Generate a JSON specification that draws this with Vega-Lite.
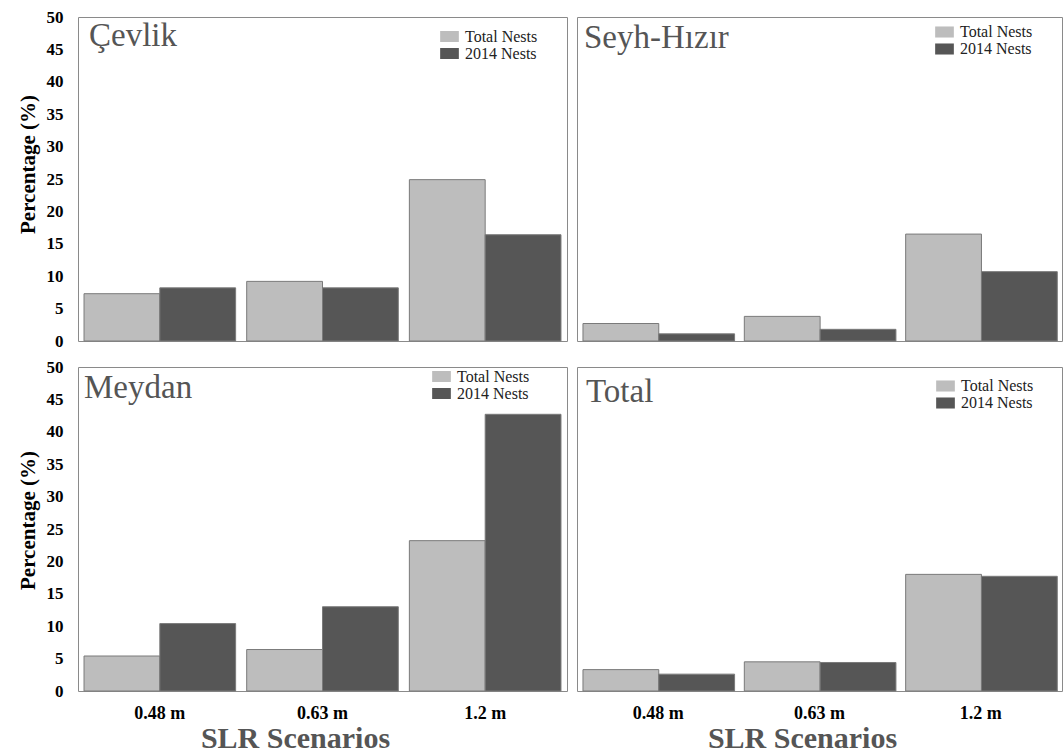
{
  "$schema": "https://vega.github.io/schema/vega-lite/v6.json",
  "padding": {"left": 16, "top": 7, "right": 0, "bottom": 0},
  "background": "white",
  "data": {"values": [
    {"panel": "Çevlik", "scenario": "0.48 m", "series": "Total Nests", "value": 7.3},
    {"panel": "Çevlik", "scenario": "0.48 m", "series": "2014 Nests", "value": 8.2},
    {"panel": "Çevlik", "scenario": "0.63 m", "series": "Total Nests", "value": 9.2},
    {"panel": "Çevlik", "scenario": "0.63 m", "series": "2014 Nests", "value": 8.2},
    {"panel": "Çevlik", "scenario": "1.2 m", "series": "Total Nests", "value": 24.9},
    {"panel": "Çevlik", "scenario": "1.2 m", "series": "2014 Nests", "value": 16.4},
    {"panel": "Seyh-Hızır", "scenario": "0.48 m", "series": "Total Nests", "value": 2.7},
    {"panel": "Seyh-Hızır", "scenario": "0.48 m", "series": "2014 Nests", "value": 1.1},
    {"panel": "Seyh-Hızır", "scenario": "0.63 m", "series": "Total Nests", "value": 3.8},
    {"panel": "Seyh-Hızır", "scenario": "0.63 m", "series": "2014 Nests", "value": 1.8},
    {"panel": "Seyh-Hızır", "scenario": "1.2 m", "series": "Total Nests", "value": 16.5},
    {"panel": "Seyh-Hızır", "scenario": "1.2 m", "series": "2014 Nests", "value": 10.7},
    {"panel": "Meydan", "scenario": "0.48 m", "series": "Total Nests", "value": 5.4},
    {"panel": "Meydan", "scenario": "0.48 m", "series": "2014 Nests", "value": 10.4},
    {"panel": "Meydan", "scenario": "0.63 m", "series": "Total Nests", "value": 6.4},
    {"panel": "Meydan", "scenario": "0.63 m", "series": "2014 Nests", "value": 13.0},
    {"panel": "Meydan", "scenario": "1.2 m", "series": "Total Nests", "value": 23.2},
    {"panel": "Meydan", "scenario": "1.2 m", "series": "2014 Nests", "value": 42.7},
    {"panel": "Total", "scenario": "0.48 m", "series": "Total Nests", "value": 3.3},
    {"panel": "Total", "scenario": "0.48 m", "series": "2014 Nests", "value": 2.6},
    {"panel": "Total", "scenario": "0.63 m", "series": "Total Nests", "value": 4.5},
    {"panel": "Total", "scenario": "0.63 m", "series": "2014 Nests", "value": 4.4},
    {"panel": "Total", "scenario": "1.2 m", "series": "Total Nests", "value": 18.0},
    {"panel": "Total", "scenario": "1.2 m", "series": "2014 Nests", "value": 17.7}
  ]},
  "columns": 2,
  "bounds": "flush",
  "spacing": {"row": 26, "column": 10},
  "resolve": {"scale": {"color": "independent", "x": "independent", "y": "independent"}, "legend": {"color": "independent"}, "axis": {"x": "independent", "y": "independent"}},
  "config": {
    "view": {"stroke": "#8a8a8a", "strokeWidth": 1},
    "title": {"font": "Liberation Serif", "fontSize": 33, "fontWeight": "normal", "color": "#555555", "anchor": "start", "frame": "group", "baseline": "alphabetic"},
    "legend": {"title": null, "orient": "none", "symbolType": "M-1.1,-0.65H1.1V0.65H-1.1Z", "symbolSize": 289, "symbolStrokeWidth": 0, "labelFont": "Liberation Serif", "labelFontSize": 16, "labelColor": "#222222", "rowPadding": 0, "labelOffset": 7, "symbolOpacity": 1}
  },
  "concat": [
    {
      "width": 489, "height": 324,
      "title": {"text": "Çevlik", "offset": -45, "dx": 11},
      "transform": [{"filter": "datum.panel === 'Çevlik'"}],
      "mark": {"type": "bar", "stroke": "#7a7a7a", "strokeWidth": 1},
      "encoding": {
        "x": {"field": "scenario", "type": "nominal", "sort": ["0.48 m", "0.63 m", "1.2 m"], "scale": {"paddingInner": 0.068, "paddingOuter": 0.037}, "axis": null},
        "xOffset": {"field": "series", "type": "nominal", "sort": ["Total Nests", "2014 Nests"]},
        "y": {"field": "value", "type": "quantitative", "scale": {"domain": [0, 50], "nice": false}, "axis": {"values": [0, 5, 10, 15, 20, 25, 30, 35, 40, 45, 50], "grid": false, "domain": false, "ticks": false, "labelFont": "Liberation Serif", "labelFontWeight": "bold", "labelFontSize": 17, "labelColor": "#000000", "labelPadding": 15, "title": "Percentage (%)", "titleFont": "Liberation Serif", "titleFontWeight": "bold", "titleFontSize": 21, "titleColor": "#000000", "titlePadding": 8, "titleY": 147}},
        "color": {"field": "series", "type": "nominal", "scale": {"domain": ["Total Nests", "2014 Nests"], "range": ["#bdbdbd", "#565656"]}, "legend": {"legendX": 363, "legendY": 11}}
      }
    },
    {
      "width": 485, "height": 324,
      "title": {"text": "Seyh-Hızır", "offset": -38, "dx": 7},
      "transform": [{"filter": "datum.panel === 'Seyh-Hızır'"}],
      "mark": {"type": "bar", "stroke": "#7a7a7a", "strokeWidth": 1},
      "encoding": {
        "x": {"field": "scenario", "type": "nominal", "sort": ["0.48 m", "0.63 m", "1.2 m"], "scale": {"paddingInner": 0.068, "paddingOuter": 0.037}, "axis": null},
        "xOffset": {"field": "series", "type": "nominal", "sort": ["Total Nests", "2014 Nests"]},
        "y": {"field": "value", "type": "quantitative", "scale": {"domain": [0, 50], "nice": false}, "axis": null},
        "color": {"field": "series", "type": "nominal", "scale": {"domain": ["Total Nests", "2014 Nests"], "range": ["#bdbdbd", "#565656"]}, "legend": {"legendX": 359, "legendY": 6.5}}
      }
    },
    {
      "width": 489, "height": 324,
      "title": {"text": "Meydan", "offset": -47, "dx": 6},
      "transform": [{"filter": "datum.panel === 'Meydan'"}],
      "mark": {"type": "bar", "stroke": "#7a7a7a", "strokeWidth": 1},
      "encoding": {
        "x": {"field": "scenario", "type": "nominal", "sort": ["0.48 m", "0.63 m", "1.2 m"], "scale": {"paddingInner": 0.068, "paddingOuter": 0.037}, "axis": {"labelAngle": 0, "domain": false, "ticks": false, "labelFont": "Liberation Serif", "labelFontWeight": "bold", "labelFontSize": 18, "labelColor": "#000000", "labelPadding": 13, "title": "SLR Scenarios", "titleFont": "Liberation Serif", "titleFontWeight": "bold", "titleFontSize": 30, "titleColor": "#555555", "titlePadding": 1, "titleX": 217}},
        "xOffset": {"field": "series", "type": "nominal", "sort": ["Total Nests", "2014 Nests"]},
        "y": {"field": "value", "type": "quantitative", "scale": {"domain": [0, 50], "nice": false}, "axis": {"values": [0, 5, 10, 15, 20, 25, 30, 35, 40, 45, 50], "grid": false, "domain": false, "ticks": false, "labelFont": "Liberation Serif", "labelFontWeight": "bold", "labelFontSize": 17, "labelColor": "#000000", "labelPadding": 15, "title": "Percentage (%)", "titleFont": "Liberation Serif", "titleFontWeight": "bold", "titleFontSize": 21, "titleColor": "#000000", "titlePadding": 8, "titleY": 153}},
        "color": {"field": "series", "type": "nominal", "scale": {"domain": ["Total Nests", "2014 Nests"], "range": ["#bdbdbd", "#565656"]}, "legend": {"legendX": 355, "legendY": 1}}
      }
    },
    {
      "width": 485, "height": 324,
      "title": {"text": "Total", "offset": -42, "dx": 9},
      "transform": [{"filter": "datum.panel === 'Total'"}],
      "mark": {"type": "bar", "stroke": "#7a7a7a", "strokeWidth": 1},
      "encoding": {
        "x": {"field": "scenario", "type": "nominal", "sort": ["0.48 m", "0.63 m", "1.2 m"], "scale": {"paddingInner": 0.068, "paddingOuter": 0.037}, "axis": {"labelAngle": 0, "domain": false, "ticks": false, "labelFont": "Liberation Serif", "labelFontWeight": "bold", "labelFontSize": 18, "labelColor": "#000000", "labelPadding": 13, "title": "SLR Scenarios", "titleFont": "Liberation Serif", "titleFontWeight": "bold", "titleFontSize": 30, "titleColor": "#555555", "titlePadding": 1, "titleX": 225}},
        "xOffset": {"field": "series", "type": "nominal", "sort": ["Total Nests", "2014 Nests"]},
        "y": {"field": "value", "type": "quantitative", "scale": {"domain": [0, 50], "nice": false}, "axis": null},
        "color": {"field": "series", "type": "nominal", "scale": {"domain": ["Total Nests", "2014 Nests"], "range": ["#bdbdbd", "#565656"]}, "legend": {"legendX": 360, "legendY": 10.5}}
      }
    }
  ]
}
